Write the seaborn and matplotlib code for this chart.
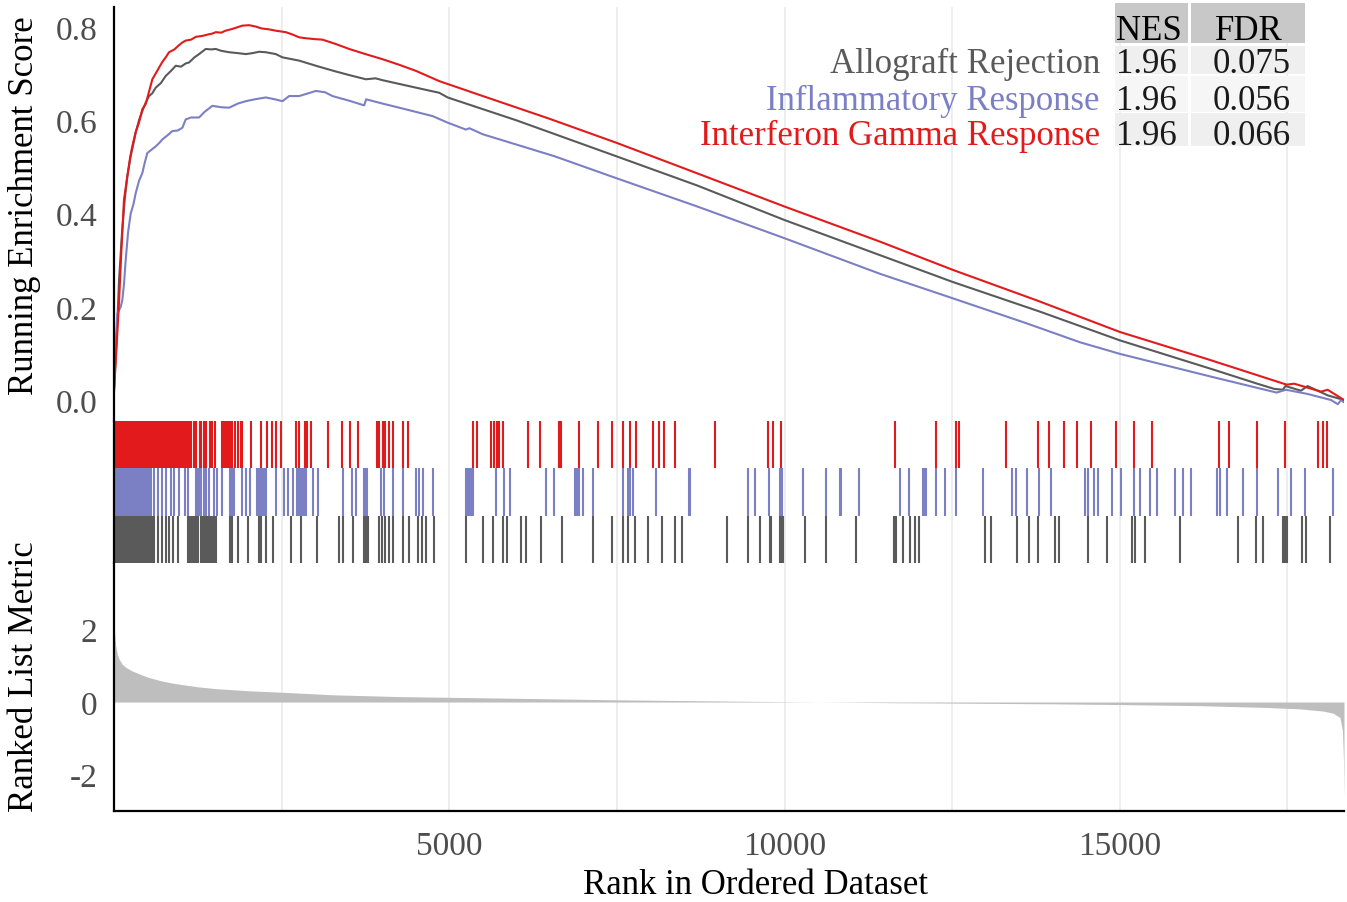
import numpy as np
import pandas as pd
import matplotlib
matplotlib.use("Agg")
import matplotlib.pyplot as plt
from matplotlib.patches import Rectangle
import seaborn as sns

# ---------------- data ----------------
set_names = ["Allograft Rejection", "Inflammatory Response", "Interferon Gamma Response"]
set_colors = ["#5A5A5A", "#7B80C4", "#E31A1C"]
nes_values = ["1.96", "1.96", "1.96"]
fdr_values = ["0.075", "0.056", "0.066"]
n_genes = 18343

# running enrichment score (rank, ES)
allo_rank = [0, 40, 75, 120, 160, 199, 249, 290, 324, 373, 423, 473, 522, 572, 622, 700, 771, 850, 921,
             1000, 1070, 1119, 1200, 1269, 1368, 1450, 1517, 1600, 1716, 1850, 1965, 2065, 2164, 2264,
             2413, 2512, 2761, 3010, 3300, 3507, 3756, 3900, 4005, 4254, 4503, 4851, 4975, 6000, 7488,
             8700, 10000, 11418, 12512, 13800, 15000, 16400, 17050, 17300, 17430, 17470, 17700, 17800,
             18100, 18343]
allo_es = [0.02, 0.13, 0.257, 0.36, 0.43, 0.48, 0.523, 0.55, 0.574, 0.60, 0.620, 0.638, 0.652, 0.658,
           0.670, 0.68, 0.695, 0.706, 0.717, 0.715, 0.722, 0.724, 0.735, 0.742, 0.753, 0.752, 0.753,
           0.749, 0.746, 0.744, 0.742, 0.744, 0.747, 0.746, 0.742, 0.735, 0.728, 0.717, 0.705, 0.697,
           0.688, 0.690, 0.686, 0.678, 0.670, 0.659, 0.649, 0.60, 0.523, 0.46, 0.386, 0.311, 0.253,
           0.19, 0.128, 0.065, 0.035, 0.024, 0.022, 0.03, 0.02, 0.03, 0.01, 0.0]

infl_rank = [0, 25, 50, 100, 124, 150, 174, 210, 249, 290, 324, 373, 423, 460, 498, 560, 622, 680, 721,
             800, 871, 950, 1020, 1070, 1150, 1269, 1350, 1467, 1600, 1716, 1850, 1965, 2100, 2264, 2400,
             2512, 2612, 2761, 2900, 3010, 3150, 3258, 3507, 3731, 3760, 4000, 4254, 4751, 4975, 5249,
             5300, 5500, 6567, 7488, 8700, 10000, 11418, 12512, 13600, 14403, 15000, 16392, 17338,
             17480, 17800, 18150, 18250, 18300, 18343]
infl_es = [0.02, 0.12, 0.185, 0.20, 0.214, 0.25, 0.30, 0.36, 0.40, 0.42, 0.444, 0.47, 0.487, 0.51, 0.530,
           0.537, 0.544, 0.552, 0.559, 0.568, 0.577, 0.578, 0.584, 0.602, 0.606, 0.606, 0.618, 0.631,
           0.628, 0.627, 0.636, 0.641, 0.645, 0.649, 0.645, 0.641, 0.652, 0.652, 0.658, 0.663, 0.660,
           0.652, 0.642, 0.632, 0.645, 0.636, 0.627, 0.609, 0.595, 0.580, 0.583, 0.570, 0.523, 0.476,
           0.415, 0.347, 0.271, 0.218, 0.165, 0.124, 0.099, 0.049, 0.016, 0.022, 0.013, 0.0, -0.009,
           0.0, -0.005]

ifng_rank = [0, 40, 75, 110, 149, 199, 240, 274, 324, 373, 423, 473, 520, 572, 620, 672, 720, 771, 821,
             900, 960, 1020, 1070, 1150, 1220, 1318, 1400, 1467, 1517, 1600, 1660, 1766, 1850, 1915, 2015,
             2115, 2200, 2313, 2420, 2562, 2661, 2761, 2861, 3000, 3109, 3300, 3507, 3750, 4005, 4254,
             4503, 4851, 5500, 6500, 7488, 8500, 10000, 11418, 12512, 13756, 15000, 16300, 17487,
             17600, 18000, 18100, 18343]
ifng_es = [0.02, 0.12, 0.21, 0.32, 0.43, 0.48, 0.52, 0.545, 0.575, 0.595, 0.624, 0.635, 0.66, 0.688,
           0.70, 0.713, 0.725, 0.735, 0.746, 0.752, 0.76, 0.767, 0.771, 0.773, 0.779, 0.781, 0.784,
           0.786, 0.789, 0.788, 0.792, 0.796, 0.80, 0.803, 0.804, 0.801, 0.797, 0.795, 0.792, 0.789,
           0.784, 0.778, 0.776, 0.774, 0.773, 0.764, 0.753, 0.742, 0.731, 0.719, 0.706, 0.684, 0.652,
           0.603, 0.552, 0.497, 0.415, 0.340, 0.279, 0.214, 0.146, 0.088, 0.033, 0.035, 0.018, 0.022,
           0.0]

# hit positions (ranks) of each gene set
allo_hits = [3, 25, 48, 70, 93, 116, 138, 160, 184, 207, 230, 253, 276, 300, 322, 346, 369, 392, 413,
             448, 470, 495, 520, 545, 570, 597, 662, 711, 771, 821, 880, 960,
             1109, 1134, 1159, 1184, 1209, 1234, 1259, 1290, 1318, 1343, 1368, 1393, 1418, 1443, 1468,
             1492, 1517, 1726, 1766, 1856, 2005, 2164, 2189, 2264, 2373, 2637, 2786, 3020, 3358, 3408,
             3557, 3731, 3756, 3786, 3955, 3995, 4045, 4104, 4154, 4303, 4403, 4527, 4592, 4651, 4776,
             5249, 5498, 5647, 5796, 5856, 6069, 6144, 6368,
             6681, 7139, 7423, 7587, 7661, 7771, 7960, 8169, 8373, 8472, 9139, 9452, 9627, 9776, 9801,
             9935, 9960, 9975, 10298, 10622, 11059, 11626, 11656, 11765, 11875, 11940, 12004,
             12984, 13084, 13472, 13646, 13780, 14029, 14094, 14527, 14810, 15188, 15223, 15382, 15895,
             16765, 17029, 17139, 17437, 17462, 17497, 17710, 17770, 18133]
infl_hits = [3, 25, 48, 70, 93, 116, 138, 160, 184, 207, 230, 253, 276, 300, 322, 346, 369, 392, 415,
             438, 460, 484, 507, 522, 547, 597, 662, 711, 771, 846, 895, 970, 1060, 1109, 1219, 1244,
             1269, 1293, 1343, 1378, 1418, 1492, 1542, 1607, 1726, 1745, 1766, 1786, 1905, 1965, 2025,
             2139, 2164, 2189, 2214, 2239, 2264, 2413, 2537, 2602, 2662, 2736, 2761, 2786, 2811, 2836,
             2861, 2970, 3035, 3408, 3542, 3607, 3721, 3746, 3771, 3980, 4030, 4154, 4313, 4502, 4542,
             4602, 4751, 5249, 5274, 5299, 5330, 5358, 5696, 5821, 5905, 6443,
             6567, 6880, 6905, 6930, 6990, 7139, 7587, 7661, 7691, 7746, 8084, 8582, 8595, 9452, 9552,
             9766, 9935, 9965, 10273, 10622, 10821, 10846, 11109, 11726, 11850, 12064, 12089, 12114,
             12263, 12397,
             12552, 12960, 13392, 13457, 13616, 13795, 13979, 14477, 14527, 14611, 14676, 14885, 15024,
             15208, 15298, 15447, 15547, 15820, 15945, 16054, 16442, 16492, 16591, 16840, 17049, 17352,
             17546, 17760, 18183]
ifng_hits = [3, 22, 41, 63, 85, 108, 130, 152, 176, 199, 221, 246, 268, 291, 315, 338, 361, 386, 410,
             433, 458, 481, 505, 528, 552, 575, 597, 620, 645, 668, 692, 716, 740, 764, 790, 815, 840,
             871, 900, 920, 945, 970, 995, 1020, 1045, 1070, 1095, 1119, 1150, 1189, 1229, 1278, 1298,
             1343, 1378, 1428, 1458, 1502, 1617, 1640, 1657, 1686, 1716, 1740, 1756, 1806, 1856, 1890,
             1915, 2040, 2189, 2288, 2363, 2413, 2487, 2721, 2761, 2850, 2885, 2940, 3189, 3398, 3517,
             3632, 3920, 3955, 4005, 4045, 4104, 4164, 4303, 4378, 5358, 5413, 5622, 5661, 5706, 5746,
             5806, 6179, 6353,
             6632, 6671, 6940, 7214, 7428, 7587, 7696, 7786, 8035, 8124, 8209, 8363, 8965, 9756, 9826,
             9945, 11646, 12253,
             12561, 12601, 13308, 13780, 13945, 14168, 14367, 14576, 14950, 15208, 15487, 16482, 16631,
             17049, 17462, 17959, 18024, 18083]

# ranked list metric (rank, value)
metric_rank = [0, 10, 25, 50, 75, 120, 174, 270, 373, 500, 672, 850, 1020, 1250, 1517, 2015, 2512, 3258,
               4254, 5746, 7500, 9000, 10500, 11716, 12512, 14000, 15000, 16194, 17189, 17686, 18034,
               18183, 18283, 18320, 18335, 18343]
metric_val = [2.11, 1.9, 1.56, 1.32, 1.19, 1.05, 0.96, 0.86, 0.78, 0.69, 0.60, 0.53, 0.48, 0.42, 0.37,
              0.31, 0.27, 0.20, 0.15, 0.11, 0.06, 0.03, 0.0, -0.02, -0.03, -0.05, -0.07, -0.10, -0.15,
              -0.19, -0.25, -0.31, -0.43, -0.8, -1.6, -2.66]

x_major = [5000, 10000, 15000]
x_minor = [2500, 7500, 12500, 17500]
es_ticks = [0.0, 0.2, 0.4, 0.6, 0.8]
metric_ticks = [-2, 0, 2]

# ---------------- style ----------------
sns.set_theme(style="white")
plt.rcParams["font.family"] = ["Liberation Serif", "DejaVu Serif"]

W, H = 1347, 903
fig = plt.figure(figsize=(W / 100, H / 100), dpi=100)


def fx(px):
    return px / W


def fy(py):
    return 1 - py / H


left, right = 114, 1344
ax_es = fig.add_axes([fx(left), fy(422), fx(right - left), fy(8) - fy(422)])
ax_rug = fig.add_axes([fx(left), fy(564), fx(right - left), fy(422) - fy(564)])
ax_m = fig.add_axes([fx(left), fy(812), fx(right - left), fy(564) - fy(812)])

grid_col = "#EBEBEB"
tick_col = "#4D4D4D"

for ax in (ax_es, ax_rug, ax_m):
    ax.set_xlim(0, n_genes)
    ax.set_facecolor("white")
    for s in ("top", "right", "bottom"):
        ax.spines[s].set_visible(False)
    ax.spines["left"].set_color("black")
    ax.spines["left"].set_linewidth(1.6)
    for xv in x_major + x_minor:
        ax.axvline(xv, color=grid_col, lw=1.2, zorder=0)
    ax.set_xticks(x_major)
    ax.tick_params(axis="x", length=0, labelbottom=False)
    ax.tick_params(axis="y", length=4, width=1.0, color="#333333", labelsize=24, labelcolor=tick_col,
                   pad=8)

# ---- running enrichment score ----
frames = []
for name, r, e in zip(set_names, [allo_rank, infl_rank, ifng_rank], [allo_es, infl_es, ifng_es]):
    frames.append(pd.DataFrame({"rank": r, "es": e, "set": name}))
es_df = pd.concat(frames, ignore_index=True)
sns.lineplot(data=es_df, x="rank", y="es", hue="set", hue_order=set_names,
             palette=dict(zip(set_names, set_colors)), estimator=None, sort=False,
             linewidth=1.5, legend=False, ax=ax_es)
ax_es.set_ylim(-0.045, 0.843)
ax_es.set_yticks(es_ticks)
ax_es.set_yticklabels([f"{v:.1f}" for v in es_ticks])
ax_es.set_xlabel("")
ax_es.set_ylabel("")

# ---- hit rug ----
ax_rug.set_ylim(0, 3)
ax_rug.set_yticks([])
for i, (hits, col) in enumerate(zip([allo_hits, infl_hits, ifng_hits], set_colors)):
    ax_rug.vlines(hits, i, i + 1, color=col, lw=1.5, zorder=2)

# ---- ranked list metric ----
ax_m.fill_between(metric_rank, 0, metric_val, color="#BEBEBE", lw=0, zorder=2)
ax_m.set_ylim(-3.01, 3.84)
ax_m.set_yticks(metric_ticks)
ax_m.set_yticklabels([str(v) for v in metric_ticks])
ax_m.spines["bottom"].set_visible(True)
ax_m.spines["bottom"].set_color("black")
ax_m.spines["bottom"].set_linewidth(1.6)
ax_m.tick_params(axis="x", length=4, width=1.0, color="#333333", labelbottom=True, labelsize=24,
                 labelcolor=tick_col, pad=10)
ax_m.set_xticklabels([str(v) for v in x_major])

# ---- axis titles ----
fig.text(fx(25), fy(206), "Running Enrichment Score", rotation=90, ha="center", va="center",
         fontsize=25, color="black")
fig.text(fx(25), fy(677), "Ranked List Metric", rotation=90, ha="center", va="center",
         fontsize=25, color="black")
fig.text(fx(756), fy(894), "Rank in Ordered Dataset", ha="center", va="baseline", fontsize=25,
         color="black")

# ---- NES / FDR table ----
ov = fig.add_axes([0, 0, 1, 1], zorder=5)
ov.set_xlim(0, W)
ov.set_ylim(H, 0)
ov.axis("off")
ov.patch.set_alpha(0)
col_x = [(1115, 1188), (1191, 1305)]
ov.add_patch(Rectangle((col_x[0][0], 4), col_x[0][1] - col_x[0][0], 40, color="#C8C8C8", lw=0))
ov.add_patch(Rectangle((col_x[1][0], 4), col_x[1][1] - col_x[1][0], 40, color="#C8C8C8", lw=0))
row_boxes = [(47, 28, "#EFEFEF"), (77, 36, "#F6F6F6"), (114, 33, "#EFEFEF")]
for (y0, h, c) in row_boxes:
    for (x0, x1) in col_x:
        ov.add_patch(Rectangle((x0, y0), x1 - x0, h, color=c, lw=0))
ov.text(1149, 40, "NES", ha="center", va="baseline", fontsize=25, color="black")
ov.text(1249, 40, "FDR", ha="center", va="baseline", fontsize=25, color="black")
baselines = [73, 110, 145]
for name, col, nes, fdr, yb in zip(set_names, set_colors, nes_values, fdr_values, baselines):
    ov.text(1100, yb, name, ha="right", va="baseline", fontsize=25, color=col)
    ov.text(1146, yb, nes, ha="center", va="baseline", fontsize=25, color="#1A1A1A")
    ov.text(1252, yb, fdr, ha="center", va="baseline", fontsize=25, color="#1A1A1A")

fig.savefig("out.png", dpi=100, facecolor="white")
